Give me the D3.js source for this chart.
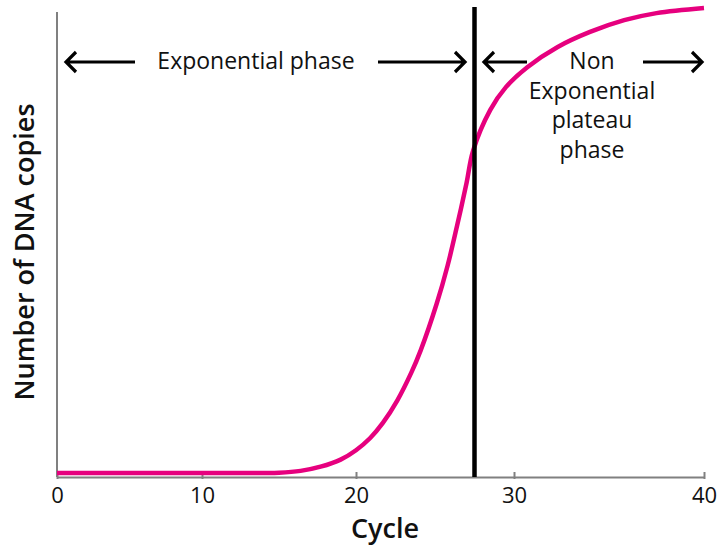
<!DOCTYPE html>
<html>
<head>
<meta charset="utf-8">
<script src="https://cdn.jsdelivr.net/npm/d3@7"></script>
<style>
  body { margin: 0; background: #fff; }
  text { font-family: "Open Sans", sans-serif; fill: #111; }
</style>
</head>
<body>
<div id="chart"></div>
<script>
// qPCR amplification curve
const cycles = [0, 7, 14, 15, 16.4, 17.7, 19, 20, 20.9, 21.7, 22.6, 23.5, 24.1, 25.1, 25.8, 26.4, 27, 27.4, 28.5, 29.5, 30.7, 32.3, 34, 35.8, 37.5, 40];
const copies = [0.85, 0.85, 0.85, 0.9, 1.3, 2.2, 3.7, 5.7, 8.3, 11.5, 16.2, 22.2, 27, 36.8, 45, 53.5, 62.6, 69.3, 78.1, 83, 87.2, 91.5, 94.7, 97.2, 98.7, 99.8];
const tickCycles = [0, 10, 20, 30, 40];
const splitCycle = 27.5;
const plateauLines = ["Non", "Exponential", "plateau", "phase"];

const W = 727, H = 546;
const svg = d3.select("#chart").append("svg")
	.attr("width", W)
	.attr("height", H);

// the drawn axis is not evenly spaced, so map each tick on its own
const xScale = d3.scaleLinear()
	.domain(tickCycles)
	.range([57, 202, 356, 514, 704]);
const yScale = d3.scaleLinear()
	.domain([0, 100])
	.range([477, 7]);

const axisColor = "#808080";

// y axis line
svg.append("line")
	.attr("x1", xScale(0)).attr("x2", xScale(0))
	.attr("y1", 12).attr("y2", yScale(0))
	.attr("stroke", axisColor).attr("stroke-width", 2);

// x axis
const xAxis = svg.append("g")
	.attr("transform", "translate(0," + yScale(0) + ")")
	.call(d3.axisBottom(xScale).tickValues(tickCycles).tickSize(0).tickPadding(10).tickFormat(d3.format("d")));
xAxis.select(".domain").attr("stroke", axisColor).attr("stroke-width", 2);
xAxis.selectAll(".tick line").remove();
xAxis.selectAll(".tick").append("line")
	.attr("y1", -5).attr("y2", 2)
	.attr("stroke", axisColor).attr("stroke-width", 2);
xAxis.selectAll(".tick text")
	.attr("font-size", 22)
	.attr("font-family", "Open Sans, sans-serif")
	.attr("fill", "#111");

// axis titles
svg.append("text")
	.attr("x", 385).attr("y", 538)
	.attr("text-anchor", "middle")
	.attr("font-size", 27).attr("font-weight", 600)
	.text("Cycle");
svg.append("text")
	.attr("transform", "translate(34,252) rotate(-90)")
	.attr("text-anchor", "middle")
	.attr("font-size", 27).attr("font-weight", 600)
	.text("Number of DNA copies");

// amplification curve
const line = d3.line()
	.x((d, i) => xScale(cycles[i]))
	.y(d => yScale(d))
	.curve(d3.curveCatmullRom.alpha(0.5));
svg.append("path")
	.attr("d", line(copies))
	.attr("fill", "none")
	.attr("stroke", "#e6007e")
	.attr("stroke-width", 4.5);

// phase divider
svg.append("line")
	.attr("x1", xScale(splitCycle)).attr("x2", xScale(splitCycle))
	.attr("y1", yScale(100)).attr("y2", yScale(0))
	.attr("stroke", "#000").attr("stroke-width", 4.5);

// annotation arrows
function arrow(xFrom, xTo, y) {
	const dir = xTo > xFrom ? 1 : -1;
	svg.append("path")
		.attr("d", "M" + xFrom + "," + y + "H" + xTo +
			"M" + (xTo - dir * 10) + "," + (y - 10) + "L" + xTo + "," + y + "L" + (xTo - dir * 10) + "," + (y + 10))
		.attr("fill", "none")
		.attr("stroke", "#000")
		.attr("stroke-width", 3.2);
}
const arrowY = 62;
arrow(135, 66, arrowY);
arrow(378, 465, arrowY);
arrow(527, 484, arrowY);
arrow(643, 702, arrowY);

svg.append("text")
	.attr("x", 256).attr("y", arrowY + 7)
	.attr("text-anchor", "middle")
	.attr("font-size", 23)
	.text("Exponential phase");

svg.append("text")
	.attr("text-anchor", "middle")
	.attr("font-size", 23)
	.selectAll("tspan")
	.data(plateauLines)
	.enter().append("tspan")
		.attr("x", 592)
		.attr("y", (d, i) => arrowY + 7 + i * 29.5)
		.text(d => d);
</script>
</body>
</html>
